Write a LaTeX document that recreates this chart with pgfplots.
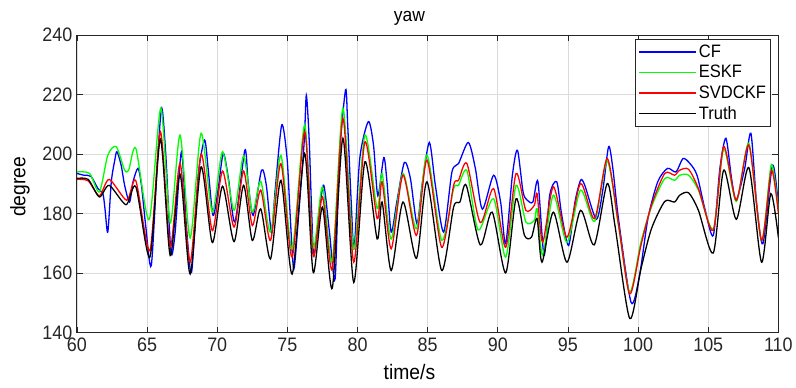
\documentclass[border=0pt]{standalone}
\usepackage{fontspec}
\setmainfont[FakeStretch=0.92]{Liberation Sans}
\usepackage{pgfplots}
\pgfplotsset{compat=1.18}
\definecolor{axcol}{rgb}{0.15,0.15,0.15}
\definecolor{gridcol}{rgb}{0.86,0.86,0.86}
\begin{document}
\begin{tikzpicture}
\begin{axis}[
  scale only axis, width=702pt, height=298pt,
  xmin=60, xmax=110, ymin=140, ymax=240,
  xtick={60,65,...,110}, ytick={140,160,...,240},
  grid=major, major grid style={gridcol, line width=0.7pt},
  axis line style={axcol, line width=0.9pt},
  tick style={axcol, line width=0.7pt},
  tick align=inside, major tick length=6pt,
  /pgf/number format/assume math mode=true,
  ticklabel style={font=\fontsize{19.5}{22}\selectfont, text=axcol},
  xticklabel style={yshift=-2pt},
  yticklabel style={xshift=-1pt},
  title={yaw},
  title style={font=\fontsize{19}{21}\selectfont, at={(axis description cs:0.474,1)}, anchor=south, inner sep=0pt, yshift=3pt},
  xlabel={time/s},
  xlabel style={font=\fontsize{21}{24}\selectfont, at={(axis description cs:0.474,0)}, anchor=north, inner sep=0pt, yshift=-31pt},
  ylabel={degree},
  ylabel style={font=\fontsize{21}{24}\selectfont, at={(axis description cs:-0.067,0.49)}, anchor=south, inner sep=0pt},
  legend style={at={(rel axis cs:0.99,0.985)}, anchor=north east, draw=axcol, line width=0.9pt,
     font=\fontsize{18}{20}\selectfont, inner xsep=3pt, inner ysep=3pt, row sep=2.5pt},
  legend cell align=left,
  legend image code/.code={\draw[line width=1.3pt, #1] (0pt,0pt) -- (57pt,0pt);},
  every axis plot/.append style={line width=1.3pt, smooth, tension=0.45},
]
\coordinate (SW) at (rel axis cs:0,0);
% CF
\addplot[draw=blue] coordinates {
(60.0,193.5) (60.5,192.9) (61.0,192.5) (61.5,188.4) (61.85,186.7) (62.0,181.6) (62.2,173.8) (62.45,190.7) (62.7,198.0) (62.85,200.8) (63.15,196.3) (63.4,189.5) (63.75,183.9) (64.0,190.7) (64.35,195.2) (64.6,189.5) (64.9,176.0) (65.3,162.6) (65.75,198.5) (66.05,215.4) (66.35,198.5) (66.7,167.0) (67.0,173.8) (67.45,200.8) (67.8,176.0) (68.17,160.3) (68.65,192.9) (69.1,204.7) (69.35,195.2) (69.7,179.4) (70.07,188.4) (70.43,200.2) (70.8,191.8) (71.26,177.2) (71.97,201.3) (72.2,190.7) (72.56,179.4) (73.16,194.6) (73.5,189.5) (73.87,173.8) (74.13,187.9) (74.6,209.8) (74.98,198.5) (75.2,179.4) (75.46,161.4) (75.8,179.4) (76.2,204.2) (76.35,219.7) (76.55,205.3) (76.74,179.4) (76.9,165.9) (77.3,181.6) (77.6,189.5) (78.0,173.8) (78.4,158.0) (78.7,198.5) (79.15,221.6) (79.3,209.8) (79.55,183.9) (79.76,168.2) (80.16,198.5) (80.77,210.9) (81.14,203.0) (81.45,186.0) (81.87,198.8) (82.1,190.7) (82.4,173.8) (82.8,183.9) (83.34,197.2) (83.77,191.8) (84.24,176.6) (84.6,189.5) (85.12,203.9) (85.55,189.5) (86.14,173.8) (86.73,194.0) (87.2,196.8) (87.9,203.9) (88.4,195.2) (88.9,181.5) (89.7,192.9) (90.2,183.9) (90.56,169.9) (91.04,192.9) (91.4,201.3) (91.8,187.3) (92.1,184.5) (92.5,183.9) (92.86,190.7) (93.3,166.0) (93.7,186.2) (94.2,190.7) (94.56,179.4) (95.05,169.3) (95.5,183.9) (95.9,191.2) (96.2,189.5) (97.03,178.1) (97.5,188.4) (97.9,202.5) (98.2,195.2) (98.6,178.3) (99.5,150.2) (100.1,159.2) (100.7,178.3) (101.4,190.7) (102.1,195.2) (102.7,194.0) (103.2,198.5) (103.7,196.8) (104.2,192.9) (104.76,181.6) (105.36,172.7) (105.83,195.2) (106.26,205.3) (106.66,191.8) (107.0,184.5) (107.6,195.2) (108.04,207.0) (108.44,183.9) (108.9,169.9) (109.58,196.3) (110.0,182.8)
};
\addlegendentry{CF}
% ESKF
\addplot[draw=green] coordinates {
(60.0,194.0) (60.9,193.5) (61.6,187.3) (62.2,199.6) (62.8,202.5) (63.4,194.6) (63.7,194.8) (64.2,201.9) (65.15,178.0) (65.98,215.4) (66.65,176.9) (67.35,206.4) (68.07,171.8) (68.85,207.0) (69.65,180.5) (70.38,200.8) (71.2,181.1) (71.88,199.4) (72.5,180.5) (73.1,190.9) (73.8,173.8) (74.54,199.6) (75.34,168.2) (76.23,209.8) (76.84,168.7) (77.5,189.0) (78.2,164.2) (78.96,215.4) (79.73,168.2) (80.53,206.4) (81.4,181.7) (81.75,193.5) (82.4,171.5) (83.24,193.5) (84.2,174.9) (84.95,199.7) (86.0,171.0) (86.85,188.4) (87.2,189.5) (87.8,194.4) (88.6,174.5) (89.7,185.0) (90.56,165.4) (91.3,189.5) (92.0,177.2) (92.6,177.7) (92.8,181.6) (93.2,166.0) (93.96,186.2) (94.93,170.4) (95.9,187.9) (96.9,177.4) (97.8,197.6) (98.6,176.0) (99.4,153.6) (100.2,170.4) (100.95,182.2) (101.9,191.8) (102.6,191.2) (102.97,192.9) (103.6,192.9) (104.3,187.9) (105.36,174.9) (106.1,201.7) (107.0,184.1) (107.9,203.6) (108.8,171.0) (109.5,196.5) (110.0,181.0)
};
\addlegendentry{ESKF}
% SVDCKF
\addplot[draw=red] coordinates {
(60.0,191.5) (60.8,191.0) (61.6,186.0) (62.3,191.5) (63.55,184.5) (64.2,191.0) (65.2,167.6) (65.95,207.5) (66.65,168.8) (67.35,196.9) (68.07,163.7) (68.85,200.0) (69.65,174.3) (70.38,194.3) (71.2,175.5) (71.88,194.3) (72.5,176.0) (73.1,187.9) (73.8,171.0) (74.54,196.8) (75.34,165.4) (76.23,207.5) (76.84,165.9) (77.5,185.6) (78.2,161.4) (78.96,212.0) (79.73,163.7) (80.53,204.1) (81.4,178.3) (81.75,190.7) (82.4,168.2) (83.24,192.9) (84.2,172.7) (84.95,198.0) (86.0,168.7) (86.85,189.5) (87.2,191.2) (87.8,196.8) (88.75,177.0) (89.7,188.4) (90.56,168.7) (91.3,193.5) (92.0,181.1) (92.6,182.8) (92.8,186.7) (93.2,170.4) (93.96,189.0) (94.93,172.1) (95.9,190.1) (96.9,178.3) (97.8,198.5) (98.6,176.5) (99.4,153.0) (100.2,169.3) (100.95,182.8) (101.9,193.5) (102.6,192.9) (102.97,194.6) (103.6,194.9) (104.3,188.4) (105.36,174.4) (106.1,202.5) (107.0,184.5) (107.9,203.0) (108.8,171.0) (109.5,194.6) (110.0,180.0)
};
\addlegendentry{SVDCKF}
% Truth
\addplot[draw=black] coordinates {
(60.0,191.8) (60.8,191.5) (61.6,185.6) (62.3,189.5) (63.5,183.0) (64.2,189.0) (65.2,165.4) (65.95,205.0) (66.65,165.9) (67.35,193.2) (68.07,159.7) (68.85,195.7) (69.65,170.3) (70.38,189.2) (71.2,170.6) (71.88,189.5) (72.5,171.0) (73.1,181.6) (73.8,164.8) (74.54,191.2) (75.34,159.7) (76.23,200.2) (76.84,160.3) (77.5,182.2) (78.2,155.0) (78.96,205.3) (79.73,156.9) (80.53,197.4) (81.4,171.5) (81.75,183.9) (82.4,160.9) (83.24,183.9) (84.2,165.0) (84.95,190.7) (86.0,160.9) (86.85,182.2) (87.3,183.9) (87.75,189.5) (88.75,169.5) (89.6,180.5) (90.56,160.1) (91.3,185.0) (91.9,172.7) (92.4,172.1) (92.8,178.3) (93.15,163.7) (93.96,180.5) (94.93,163.7) (95.9,181.1) (96.87,169.5) (97.8,190.1) (98.35,176.0) (99.4,144.8) (100.2,161.4) (100.95,174.9) (101.9,184.1) (102.6,183.9) (102.97,186.2) (103.6,187.0) (104.3,181.1) (105.36,166.8) (106.1,194.6) (107.0,178.1) (107.9,195.4) (108.8,163.7) (109.46,186.7) (110.0,172.0)
};
\addlegendentry{Truth}
\end{axis}
\path (SW) ++(-77pt,-55pt) rectangle ++(796pt,388pt);
\end{tikzpicture}
\end{document}
